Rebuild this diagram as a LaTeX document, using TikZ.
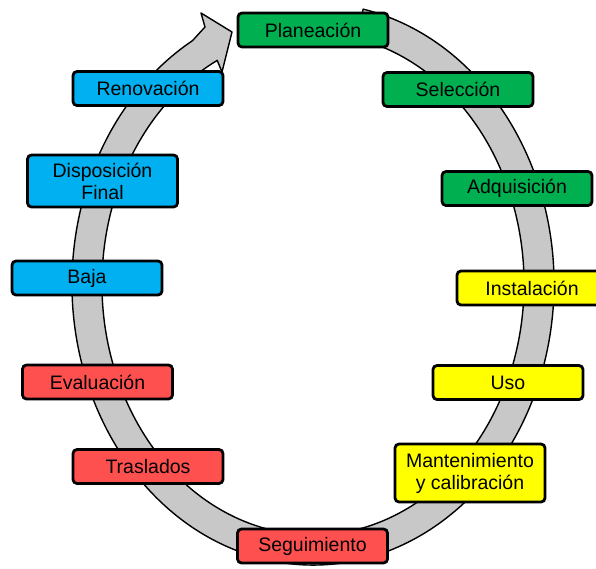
\documentclass[tikz,border=0pt]{standalone}
\usepackage{fontspec}
\setmainfont{Liberation Sans}
\usetikzlibrary{calc}
\definecolor{bandgray}{RGB}{200,200,200}
\definecolor{xgreen}{RGB}{0,176,80}
\definecolor{xblue}{RGB}{0,176,240}
\definecolor{xyellow}{RGB}{255,255,0}
\definecolor{xred}{RGB}{255,80,80}
\tikzset{
  stage/.style={draw=black, line width=2.8pt, rounded corners=4pt,
    minimum width=150pt, minimum height=34pt, inner sep=1pt, align=center,
    font=\fontsize{19.5}{22}\selectfont, text=black},
  band/.style={fill=bandgray, draw=black, line width=1.4pt, line join=round}
}
\begin{document}
\begin{tikzpicture}[x=1pt,y=1pt]
\useasboundingbox (0,0) rectangle (596,-568);
\coordinate (c) at (313,-284);
% circular arrow band
\path[band]
  ($(c)+(78:241 and 281)$) arc[start angle=78, end angle=-240, x radius=241, y radius=281]
  -- (205,-27) -- (201,-13) -- (232,-32) -- (222,-72)
  -- ($(c)+(117:211 and 251)$) arc[start angle=117, end angle=438, x radius=211, y radius=251]
  -- cycle;
% stages
\node[stage, fill=xgreen] (plan) at (313,-30) {Planeación};
\node[stage, fill=xgreen] (sel) at (458,-89.5) {Selección};
\node[stage, fill=xgreen] (adq) at (517,-188.5) {Adquisición};
\node[stage, fill=xyellow] (inst) at (532,-288) {Instalación};
\node[stage, fill=xyellow] (uso) at (508,-382.5) {Uso};
\node[stage, fill=xyellow, minimum height=58pt] (mant) at (470,-473) {Mantenimiento\\y calibración};
\node[stage, fill=xred] (seg) at (312.5,-546) {Seguimiento};
\node[stage, fill=xred] (tras) at (148,-466.5) {Traslados};
\node[stage, fill=xred] (eval) at (97.5,-382) {Evaluación};
\node[stage, fill=xblue] (baja) at (87,-278) {Baja};
\node[stage, fill=xblue, minimum height=52pt] (disp) at (102.5,-181) {Disposición\\Final};
\node[stage, fill=xblue] (reno) at (148,-88.5) {Renovación};
\end{tikzpicture}
\end{document}
